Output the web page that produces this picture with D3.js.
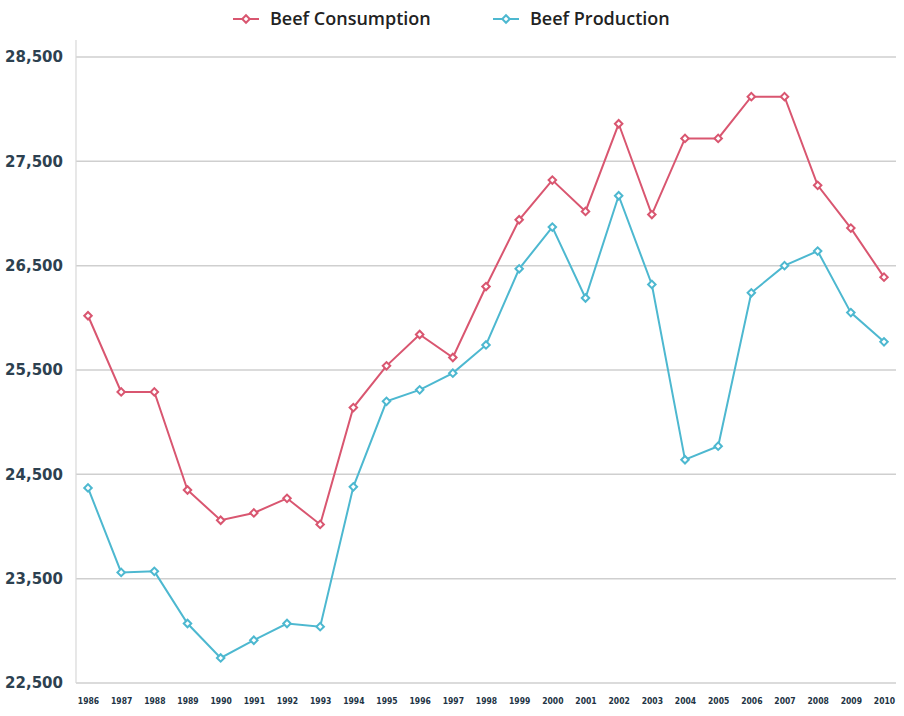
<!DOCTYPE html>
<html>
<head>
<meta charset="utf-8">
<script src="https://cdn.jsdelivr.net/npm/d3@7"></script>
<style>
  body { margin: 0; background: #fff; }
  svg { display: block; font-family: 'Open Sans', 'Noto Sans', sans-serif; }
</style>
</head>
<body>
<div id="app"></div>
<script>
const years = ['1986', '1987', '1988', '1989', '1990', '1991', '1992', '1993', '1994', '1995', '1996', '1997',
  '1998', '1999', '2000', '2001', '2002', '2003', '2004', '2005', '2006', '2007', '2008', '2009', '2010']

const consumption = [26020, 25290, 25290, 24350, 24060, 24130, 24270, 24020, 25140, 25540, 25840, 25620,
  26300, 26940, 27320, 27020, 27860, 26990, 27720, 27720, 28120, 28120, 27270, 26860, 26390]

const production = [24370, 23560, 23570, 23070, 22740, 22910, 23070, 23040, 24380, 25200, 25310, 25470,
  25740, 26470, 26870, 26190, 27170, 26320, 24640, 24770, 26240, 26500, 26640, 26050, 25770]

const yTicks = [22500, 23500, 24500, 25500, 26500, 27500, 28500]

const series = [
  { name: 'Beef Consumption', values: consumption, color: '#d95670' },
  { name: 'Beef Production', values: production, color: '#4db8d0' },
]

const width = 904
const height = 716
const margin = { top: 57, right: 8, bottom: 33, left: 76 }

const svg = d3.select('#app').append('svg')
  .attr('width', width)
  .attr('height', height)

// x 轴：点位比例尺
const x = d3.scalePoint()
  .domain(years)
  .range([88, 884])

const y = d3.scaleLinear()
  .domain([22500, 28500])
  .range([height - margin.bottom, margin.top])

// 网格线
svg.append('g')
  .selectAll('line')
  .data(yTicks)
  .join('line')
  .attr('x1', margin.left)
  .attr('x2', width - margin.right)
  .attr('y1', (d) => y(d))
  .attr('y2', (d) => y(d))
  .attr('stroke', '#cfcfcf')
  .attr('stroke-width', 1.5)

svg.append('line')
  .attr('x1', margin.left)
  .attr('x2', margin.left)
  .attr('y1', 40)
  .attr('y2', y(22500))
  .attr('stroke', '#d8d8d8')
  .attr('stroke-width', 1.2)

// y 轴标签
const yAxis = d3.axisLeft(y)
  .tickValues(yTicks)
  .tickFormat(d3.format(','))
  .tickSize(0)
  .tickPadding(13)

svg.append('g')
  .attr('transform', `translate(${margin.left},0)`)
  .call(yAxis)
  .call((g) => g.select('.domain').remove())
  .call((g) => g.selectAll('text')
    .attr('font-size', 15)
    .attr('font-weight', 700)
    .attr('fill', '#2d4150')
    .attr('font-family', "'DejaVu Sans', sans-serif"))

// x 轴标签
const xAxis = d3.axisBottom(x).tickSize(0).tickPadding(15)

svg.append('g')
  .attr('transform', `translate(0,${y(22500)})`)
  .call(xAxis)
  .call((g) => g.select('.domain').remove())
  .call((g) => g.selectAll('text')
    .attr('font-size', 8.5)
    .attr('font-weight', 700)
    .attr('fill', '#223344')
    .attr('font-family', "'Liberation Sans Narrow', 'DejaVu Sans Condensed', sans-serif"))

const line = d3.line()
  .x((d, i) => x(years[i]))
  .y((d) => y(d))

// 小菱形标记：旋转的正方形
const marker = d3.symbol().type(d3.symbolSquare).size(28)

series.forEach((s) => {
  svg.append('path')
    .datum(s.values)
    .attr('fill', 'none')
    .attr('stroke', s.color)
    .attr('stroke-width', 2)
    .attr('d', line)

  svg.append('g')
    .selectAll('path')
    .data(s.values)
    .join('path')
    .attr('d', marker)
    .attr('transform', (d, i) => `translate(${x(years[i])},${y(d)}) rotate(45)`)
    .attr('fill', '#fff')
    .attr('stroke', s.color)
    .attr('stroke-width', 2)
})

// 图例
const legend = svg.append('g')
  .selectAll('g')
  .data(series)
  .join('g')
  .attr('transform', (d, i) => `translate(${[233, 493][i]},19)`)

legend.append('line')
  .attr('x1', 0)
  .attr('x2', 26)
  .attr('stroke', (d) => d.color)
  .attr('stroke-width', 2)

legend.append('path')
  .attr('d', marker)
  .attr('transform', 'translate(13,0) rotate(45)')
  .attr('fill', '#fff')
  .attr('stroke', (d) => d.color)
  .attr('stroke-width', 2)

legend.append('text')
  .attr('x', 37)
  .attr('dy', '0.35em')
  .attr('font-size', 18)
  .attr('font-weight', 600)
  .attr('fill', '#222')
  .text((d) => d.name)
</script>
</body>
</html>
